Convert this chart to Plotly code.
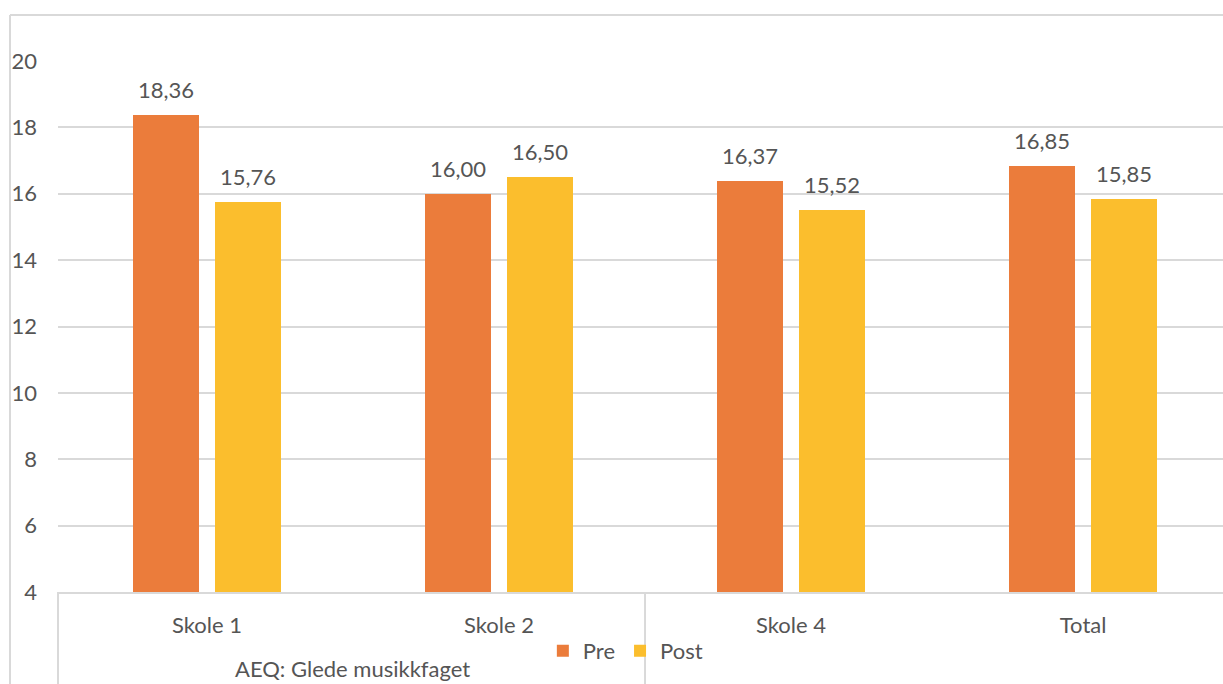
import plotly.graph_objects as go

# Chart data
categories = ["Skole 1", "Skole 2", "Skole 4", "Total"]
group_label = "AEQ: Glede musikkfaget"
pre = [18.36, 16.00, 16.37, 16.85]
post = [15.76, 16.50, 15.52, 15.85]
y_ticks = [4, 6, 8, 10, 12, 14, 16, 18, 20]

PRE_COLOR = "#EB7C3B"
POST_COLOR = "#FBBE2D"
TEXT_COLOR = "#555555"
LINE_COLOR = "#D9D9D9"
FONT = "Lato, Open Sans, sans-serif"
FS = 22

BAR_W = 0.225
SHIFT = 0.14

idx = list(range(len(categories)))

fig = go.Figure()
fig.add_bar(x=idx, y=pre, name="Pre", width=BAR_W, offset=-SHIFT - BAR_W / 2,
            marker=dict(color=PRE_COLOR, line=dict(width=0)))
fig.add_bar(x=idx, y=post, name="Post", width=BAR_W, offset=SHIFT - BAR_W / 2,
            marker=dict(color=POST_COLOR, line=dict(width=0)))

def fmt(v):
    return f"{v:.2f}".replace(".", ",")

annotations = []
for values, side in ((pre, -SHIFT), (post, SHIFT)):
    for i, v in zip(idx, values):
        annotations.append(dict(x=i + side, y=v, xref="x", yref="y", text=fmt(v),
                                showarrow=False, yanchor="bottom", yshift=10,
                                font=dict(size=FS, color=TEXT_COLOR, family=FONT)))

# Outer group label under the first two categories
annotations.append(dict(x=0.5, y=-0.145, xref="x", yref="paper", text=group_label,
                        showarrow=False, yanchor="middle",
                        font=dict(size=FS, color=TEXT_COLOR, family=FONT)))

line = dict(color=LINE_COLOR, width=2)
shapes = [
    # chart frame (top and left)
    dict(type="line", xref="paper", yref="paper", x0=-0.0412, x1=1.01, y0=1.0866, y1=1.0866, line=line),
    dict(type="line", xref="paper", yref="paper", x0=-0.0412, x1=-0.0412, y0=1.0866, y1=-0.2, line=line),
    # category box: left edge and divider between the two outer groups
    dict(type="line", xref="paper", yref="paper", x0=0, x1=0, y0=0, y1=-0.2, line=line),
    dict(type="line", xref="x", yref="paper", x0=1.5, x1=1.5, y0=0, y1=-0.2, line=line),
]

fig.update_layout(
    width=1223, height=684, autosize=False,
    margin=dict(l=58, r=0, t=61, b=92, pad=0),
    paper_bgcolor="white", plot_bgcolor="white",
    font=dict(family=FONT, color=TEXT_COLOR, size=FS),
    showlegend=True,
    legend=dict(orientation="h", x=0.487, xanchor="center", y=-0.111, yanchor="middle",
                font=dict(size=FS, color=TEXT_COLOR, family=FONT),
                itemwidth=30, bgcolor="rgba(0,0,0,0)"),
    annotations=annotations,
    shapes=shapes,
    bargap=0, barmode="overlay",
)

fig.update_xaxes(range=[-0.51, 3.479], tickmode="array", tickvals=idx, ticktext=categories,
                 showgrid=False, zeroline=False, showline=True, linecolor=LINE_COLOR, linewidth=2,
                 ticks="", ticklabelstandoff=13,
                 tickfont=dict(size=FS, color=TEXT_COLOR, family=FONT))
fig.update_yaxes(range=[4, 20], tickmode="array", tickvals=y_ticks,
                 showgrid=True, gridcolor=LINE_COLOR, gridwidth=2, zeroline=False, showline=False,
                 ticks="", ticklabelstandoff=20,
                 tickfont=dict(size=FS, color=TEXT_COLOR, family=FONT))

fig.write_html("out.html")
